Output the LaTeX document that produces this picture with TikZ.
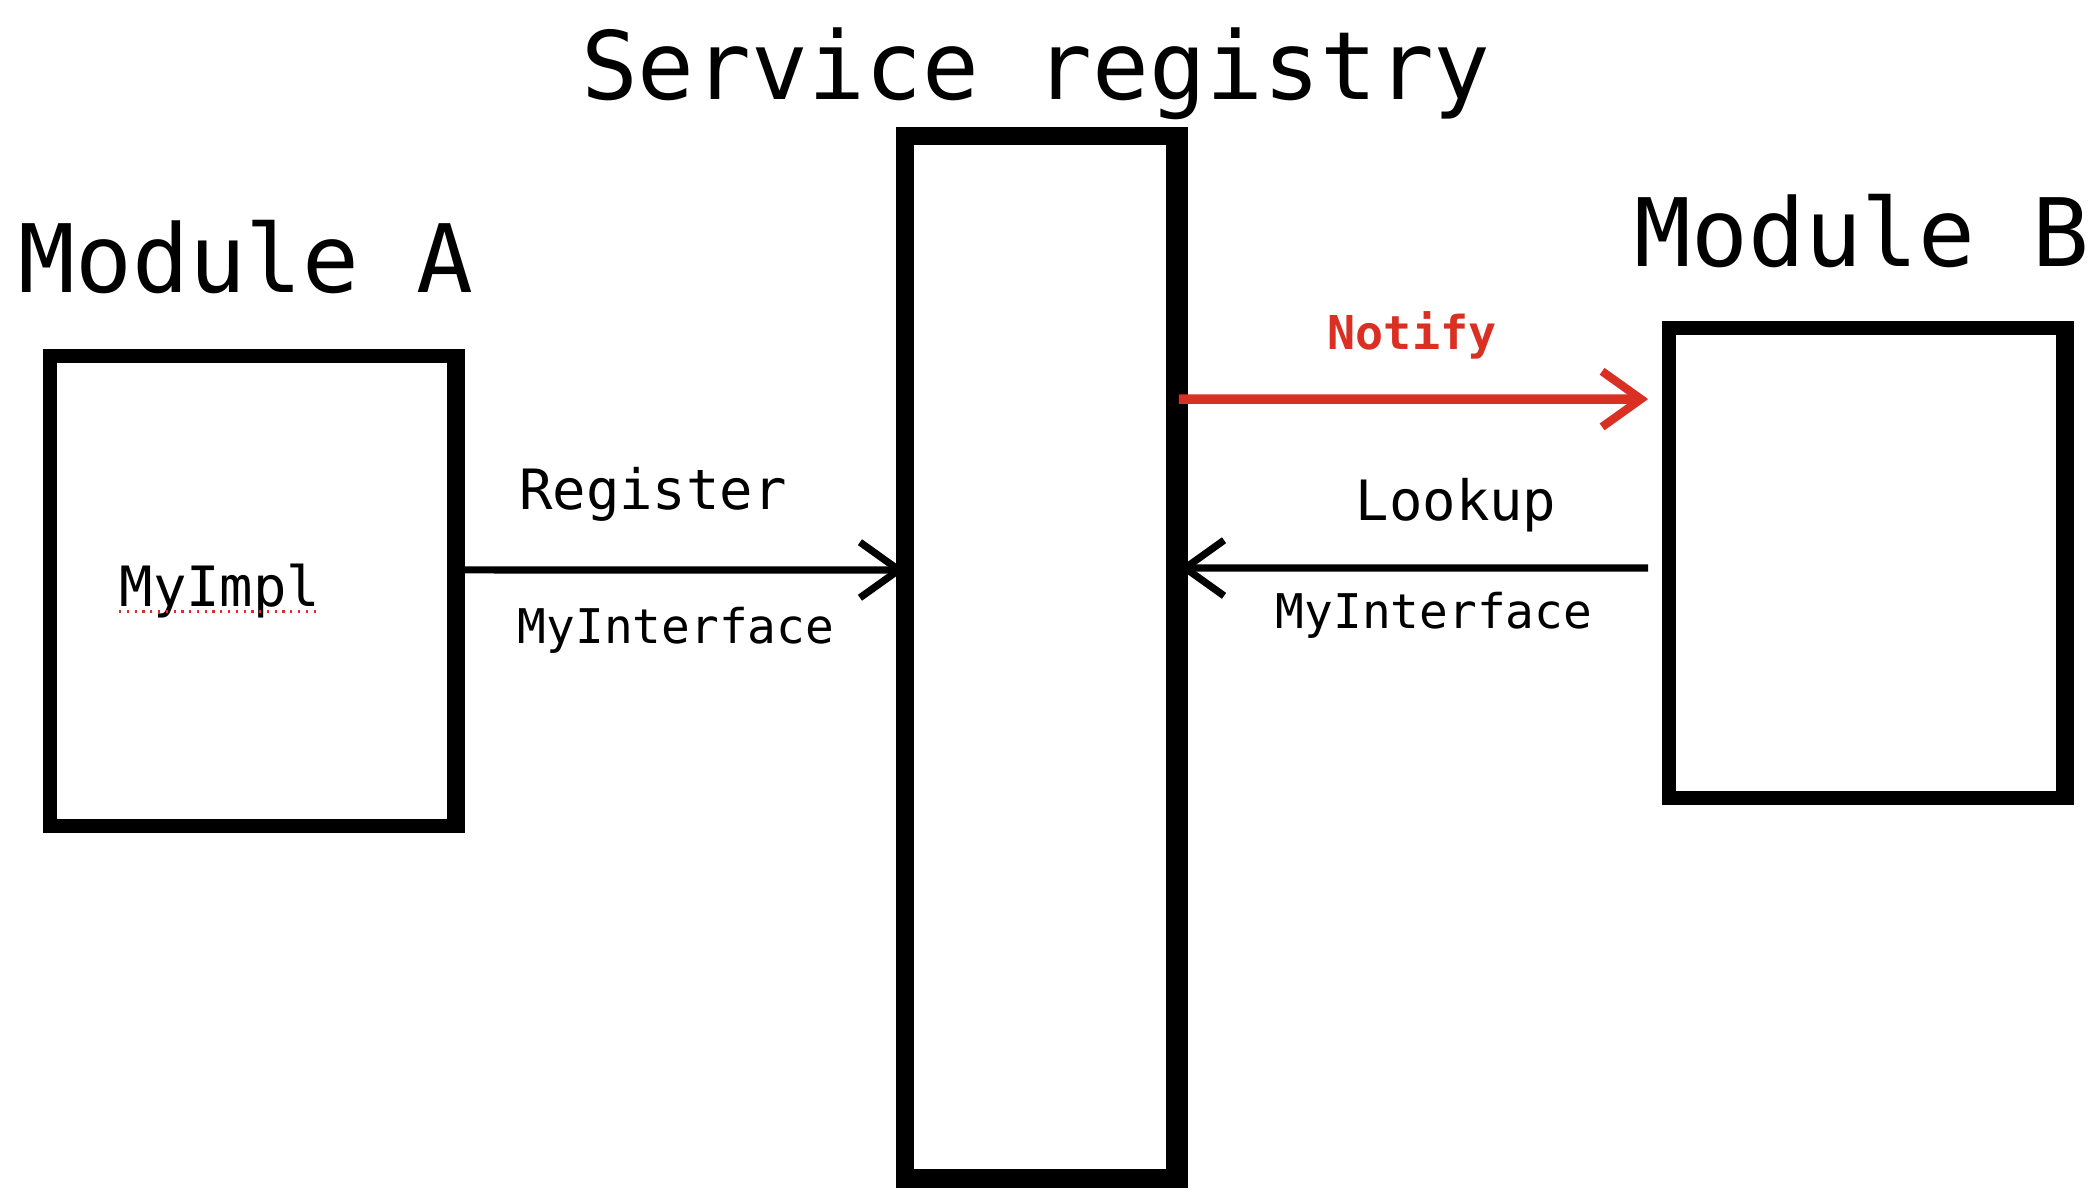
\documentclass[tikz,border=0pt]{standalone}
\usepackage{fontspec}
\setmonofont{DejaVu Sans Mono}
\usetikzlibrary{arrows.meta}
\definecolor{notifyred}{RGB}{218,48,36}
\tikzset{
  sketchbox/.style={draw=black, line width=5pt, fill=white, inner sep=0pt, outer sep=0pt},
  title/.style={font=\ttfamily\fontsize{34}{40}\selectfont, anchor=base, inner sep=0pt},
  lbl/.style={font=\ttfamily\fontsize{20}{24}\selectfont, anchor=base, inner sep=0pt},
  sublbl/.style={font=\ttfamily\fontsize{17.2}{20}\selectfont, anchor=base, inner sep=0pt},
  conn/.style={line width=2.6pt, -{Straight Barb[length=14pt, width=20pt, line width=2.6pt]}},
}
\begin{document}
\begin{tikzpicture}[x=0.36pt, y=-0.36pt]
\useasboundingbox[fill=white] (0,0) rectangle (2100,1194);

% boxes
\node[sketchbox, minimum width=146.9pt, minimum height=169.2pt] (A) at (254,591) {};
\node[sketchbox, minimum width=143.3pt, minimum height=169.2pt] (B) at (1868,563) {};
\node[sketchbox, line width=6.5pt, minimum width=98.6pt, minimum height=375.5pt] (reg) at (1042,657.5) {};

% heavier right/bottom strokes (sketchy look)
\draw[line width=3pt] ([xshift=-2.5pt,yshift=2pt]A.north east) -- ([xshift=-2.5pt]A.south east);
\draw[line width=3pt] ([xshift=-2.5pt,yshift=2pt]B.north east) -- ([xshift=-2.5pt]B.south east);
\draw[line width=3pt] ([xshift=-3pt,yshift=2pt]reg.north east) -- ([xshift=-3pt]reg.south east);
\draw[line width=2.5pt] ([yshift=2.5pt]reg.south west) -- ([yshift=2.5pt]reg.south east);

% titles
\node[title] (tReg) at (1036,100) {Service registry};
\node[title] (tA) at (246,293) {Module A};
\node[title] (tB) at (1862,267) {Module B};

% labels
\node[lbl] (impl) at (220,607) {MyImpl};
\draw[notifyred, line width=0.8pt, dotted] ([yshift=-1.6pt]impl.base west) -- ([yshift=-1.6pt]impl.base east);
\node[lbl] (register) at (653,510) {Register};
\node[sublbl] (ifaceA) at (676,644) {MyInterface};
\node[sublbl, font=\ttfamily\bfseries\fontsize{16.8}{20}\selectfont, text=notifyred] (notify) at (1412,350) {Notify};
\node[lbl] (lookup) at (1456,521) {Lookup};
\node[sublbl] (ifaceB) at (1434,629) {MyInterface};

% connectors
\draw[conn] ([yshift=7.6pt]A.east) -- ([yshift=31.5pt]reg.west);
\draw[conn, notifyred, line width=3.4pt, -{Straight Barb[length=14pt, width=20pt, line width=3pt]}, shorten >=7.5pt]
  ([yshift=93pt]reg.east) -- ([yshift=59pt]B.west);
\draw[conn, shorten <=7.5pt] ([yshift=-1.8pt]B.west) -- ([yshift=32.2pt]reg.east);
\end{tikzpicture}
\end{document}
